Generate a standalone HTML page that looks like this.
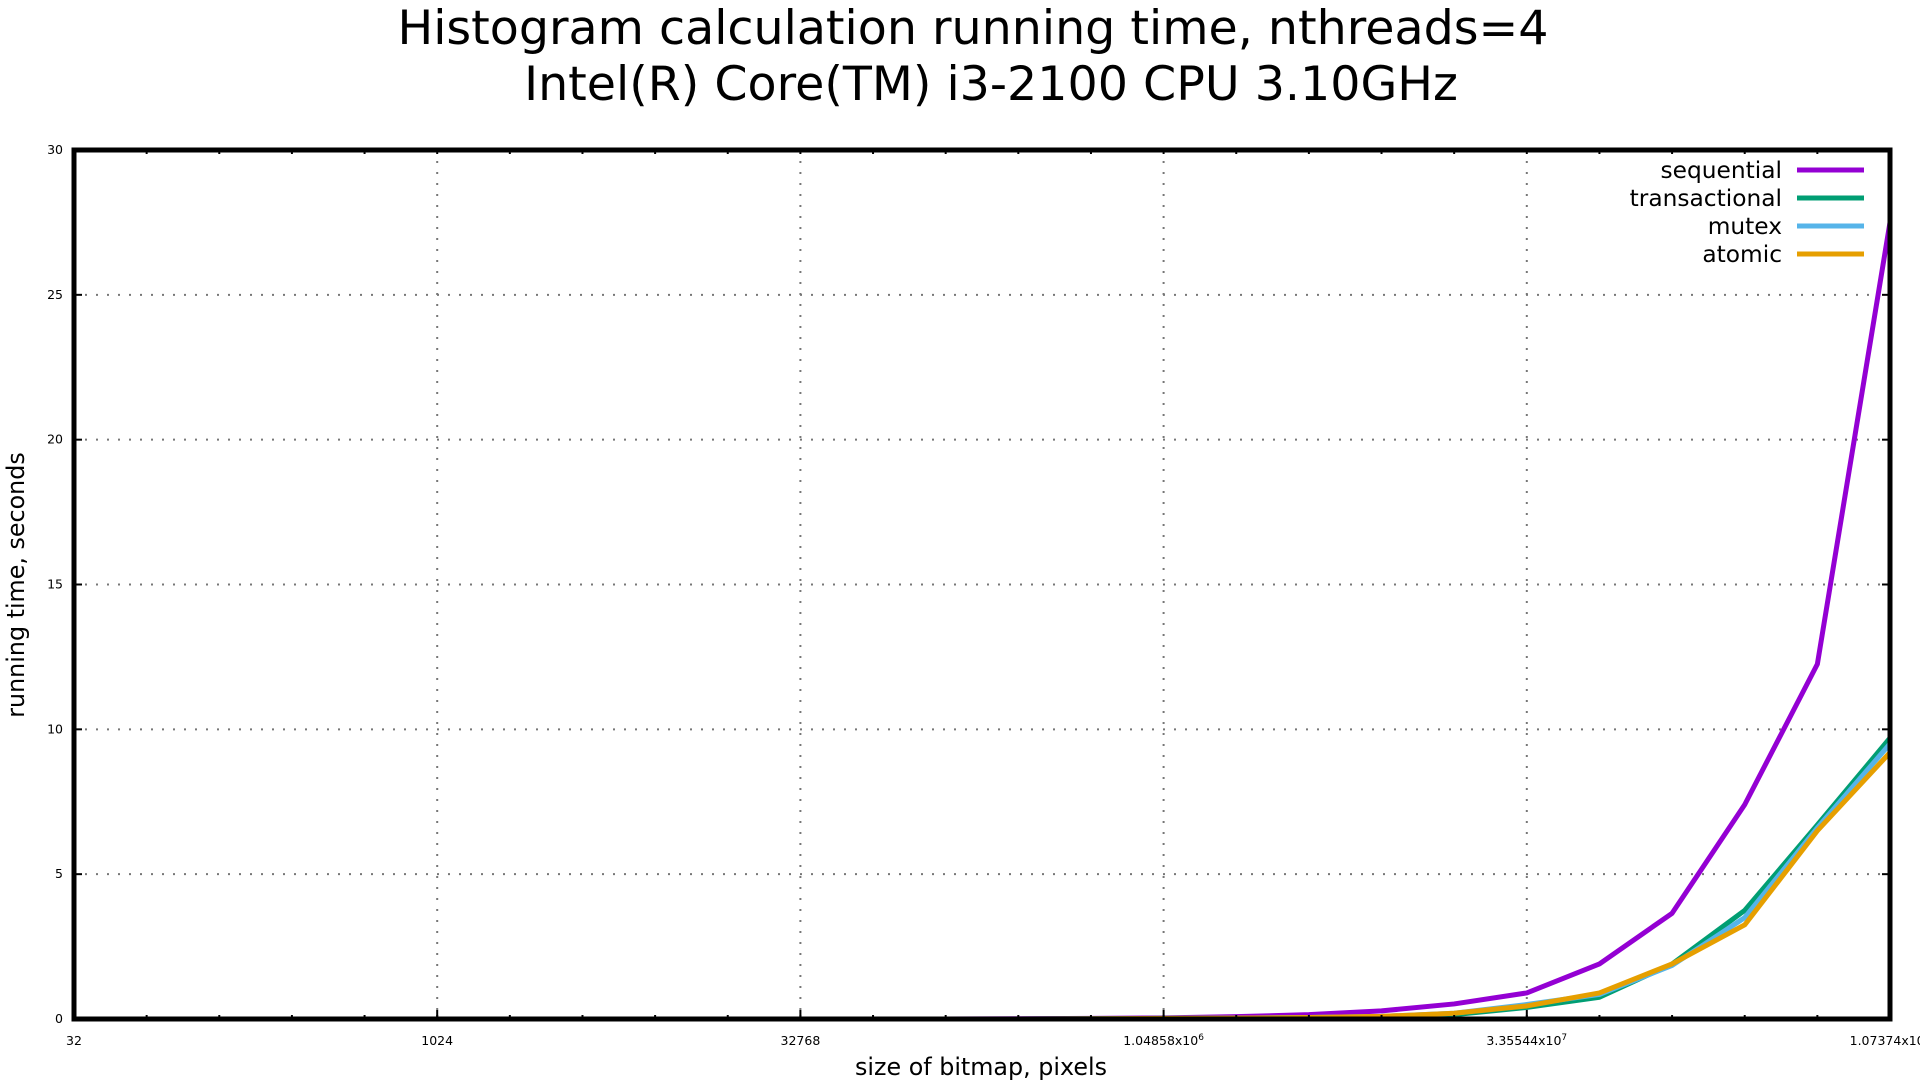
<!DOCTYPE html>
<html><head><meta charset="utf-8"><style>
body{margin:0;background:#fff;width:1920px;height:1080px;overflow:hidden}
svg{font-family:"DejaVu Sans","Liberation Sans",sans-serif}
</style></head><body>
<svg id="chart" width="1920" height="1080">
<text x="973" y="44" font-size="47.5" text-anchor="middle">Histogram calculation running time, nthreads=4</text>
<text x="991" y="100" font-size="47.5" text-anchor="middle">Intel(R) Core(TM) i3-2100 CPU 3.10GHz</text>
<text x="981" y="1075" font-size="23.8" text-anchor="middle">size of bitmap, pixels</text>
<text transform="translate(24,585) rotate(-90)" font-size="23.8" text-anchor="middle">running time, seconds</text>
<g id="grid"></g><g id="series"></g><g id="axes"></g><g id="legend"></g>
</svg>
<script>
const exps=[5,6,7,8,9,10,11,12,13,14,15,16,17,18,19,20,21,22,23,24,25,26,27,28,29,30];
const sequential=[0,0,0,0,0,0,0,0,0,0,0,0,0,0,0.01,0.02,0.04,0.08,0.15,0.28,0.52,0.9,1.9,3.65,7.4,12.25,27.5].slice(1);
const transactional=[0,0,0,0,0,0,0,0,0,0,0,0,0,0,0.01,0.02,0.03,0.05,0.08,0.15,0.4,0.75,1.9,3.75,6.7,9.7];
const mutex=[0,0,0,0,0,0,0,0,0,0,0,0,0,0,0.01,0.02,0.03,0.05,0.09,0.2,0.5,0.85,1.85,3.5,6.6,9.5];
const atomic=[0,0,0,0,0,0,0,0,0,0,0,0,0,0,0.01,0.02,0.03,0.05,0.09,0.2,0.45,0.9,1.9,3.25,6.5,9.2];
const yTicks=[0,5,10,15,20,25,30];
const xTickExps=[5,10,15,20,25,30];
const xTickLabels=["32","1024","32768","1.04858x10|6","3.35544x10|7","1.07374x10|9"];
const seriesNames=["sequential","transactional","mutex","atomic"];
const seriesColors=["#9400d3","#009e73","#56b4e9","#e69f00"];
const L=74,R=1890,T=150,B=1019;
const X=e=>L+(e-5)/25*(R-L), Y=v=>B-v/30*(B-T);
const NS="http://www.w3.org/2000/svg";
function mk(p,t,a){const e=document.createElementNS(NS,t);for(const k in a)e.setAttribute(k,a[k]);p.appendChild(e);return e;}
const grid=document.getElementById('grid'),axes=document.getElementById('axes'),ser=document.getElementById('series'),leg=document.getElementById('legend');
yTicks.forEach(v=>{
 if(v>0&&v<30){const g=mk(grid,'line',{x1:L,x2:R,y1:Y(v),y2:Y(v),stroke:'#777','stroke-width':2,'stroke-dasharray':'2,9'});
 
 }
 const t=mk(axes,'text',{x:L-11,y:Y(v)+4,'font-size':12.5,'text-anchor':'end'});t.textContent=v;
 
 
 mk(axes,'line',{x1:L,x2:L+8,y1:Y(v),y2:Y(v),stroke:'#000','stroke-width':2});
 mk(axes,'line',{x1:R,x2:R-8,y1:Y(v),y2:Y(v),stroke:'#000','stroke-width':2});
});
exps.forEach(e=>{
 mk(axes,'line',{x1:X(e),x2:X(e),y1:B,y2:B-4,stroke:'#000','stroke-width':2});
 mk(axes,'line',{x1:X(e),x2:X(e),y1:T,y2:T+4,stroke:'#000','stroke-width':2});
});
xTickExps.forEach((e,i)=>{
 if(e>5&&e<30){const g=mk(grid,'line',{x1:X(e),x2:X(e),y1:T,y2:B,stroke:'#777','stroke-width':2,'stroke-dasharray':'2,9'});
 
 }
 mk(axes,'line',{x1:X(e),x2:X(e),y1:B,y2:B-9,stroke:'#000','stroke-width':2});
 const parts=xTickLabels[i].split('|');
 const t=mk(axes,'text',{x:X(e),y:1045,'font-size':12.5,'text-anchor':'middle'});
 
 
 t.textContent=parts[0];
 if(parts[1]){const s=mk(t,'tspan',{dy:-5,'font-size':9});s.textContent=parts[1];}
});
mk(axes,'rect',{x:L,y:T,width:R-L,height:B-T,fill:'none',stroke:'#000','stroke-width':5});
[sequential,transactional,mutex,atomic].forEach((d,i)=>{
 const pts=exps.map((e,j)=>X(e)+','+Y(d[j])).join(' ');
 const p=mk(ser,'polyline',{points:pts,fill:'none',stroke:seriesColors[i],'stroke-width':5,'stroke-linejoin':'round'});
 
 
 const y=170+i*28;
 const t=mk(leg,'text',{x:1782,y:y+8,'font-size':23.3,'text-anchor':'end'});t.textContent=seriesNames[i];
 
 
 const l=mk(leg,'line',{x1:1797,x2:1864,y1:y,y2:y,stroke:seriesColors[i],'stroke-width':5});
 
 
});
</script>
</body></html>
